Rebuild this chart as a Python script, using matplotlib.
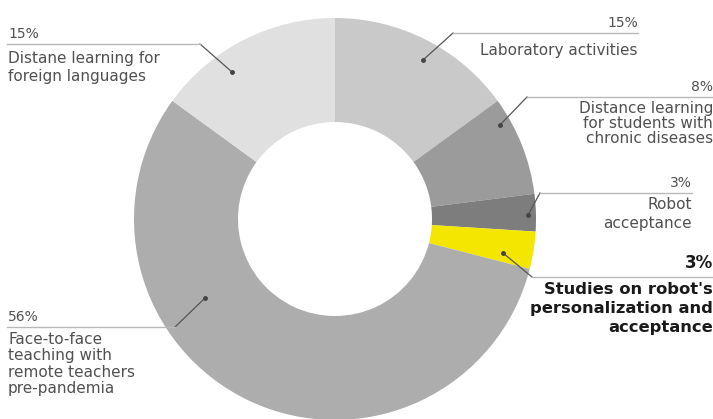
import matplotlib.pyplot as plt

# datos del donut (en sentido horario desde arriba)
labels = ['Laboratory activities',
          'Distance learning\nfor students with\nchronic diseases',
          'Robot\nacceptance',
          "Studies on robot's\npersonalization and\nacceptance",
          'Face-to-face\nteaching with\nremote teachers\npre-pandemia',
          'Distane learning for\nforeign languages']
values = [15, 8, 3, 3, 56, 15]
colors = ['#c9c9c9', '#9b9b9b', '#7d7d7d', '#f5e600', '#adadad', '#e0e0e0']

W, H = 713, 419

fig = plt.figure(figsize=(W / 100, H / 100), dpi=100)
ax = fig.add_axes([0, 0, 1, 1])
ax.set_xlim(0, W)
ax.set_ylim(0, H)
ax.set_aspect('equal')
ax.axis('off')

cx, cy, R = 335, H - 219, 201
ax.pie(values, colors=colors, startangle=90, counterclock=False,
       center=(cx, cy), radius=R, wedgeprops=dict(width=104, linewidth=0))
ax.set_xlim(0, W)
ax.set_ylim(0, H)

font = ['DejaVu Sans']
txt = '#505050'
line_c = '#b8b8b8'

# (punto, codo, fin de la linea, alineacion, separacion del texto, interlineado)
layout = [
    ((423, 60), (453, 33), 638, 'right', 10, 1.0),
    ((500, 125), (527, 97), 713, 'right', 4, 1.0),
    ((528, 215), (540, 193), 692, 'right', 4, 1.35),
    ((503, 253), (532, 277), 713, 'right', 5, 1.35),
    ((205, 298), (175, 327), 7, 'left', 5, 1.12),
    ((232, 72), (200, 44), 7, 'left', 7, 1.22),
]

for i, (lab, val) in enumerate(zip(labels, values)):
    (dx, dy), (ex, ey), endx, ha, gap, ls = layout[i]
    dy, ey = H - dy, H - ey
    bold = i == 3
    ax.plot([dx, ex], [dy, ey], color='#555555', lw=0.9)
    ax.plot([ex, endx], [ey, ey], color=line_c, lw=1.0)
    ax.plot(dx, dy, 'o', color='#444444', ms=2.5)
    tx = endx if ha == 'right' else endx + 1
    if bold:
        ax.text(tx, ey + 5, f'{val}%', ha=ha, va='bottom', fontsize=12,
                family=font, color='#1a1a1a', fontweight='bold')
        ax.text(tx, ey - gap, lab, ha=ha, va='top', fontsize=11.8,
                family=font, color='#1a1a1a', fontweight='bold', linespacing=ls)
    else:
        ax.text(tx, ey + 3, f'{val}%', ha=ha, va='bottom', fontsize=10,
                family=font, color=txt)
        ax.text(tx, ey - gap, lab, ha=ha, va='top', fontsize=11,
                family=font, color=txt, linespacing=ls)

plt.savefig('out.png', dpi=100)
plt.close(fig)
